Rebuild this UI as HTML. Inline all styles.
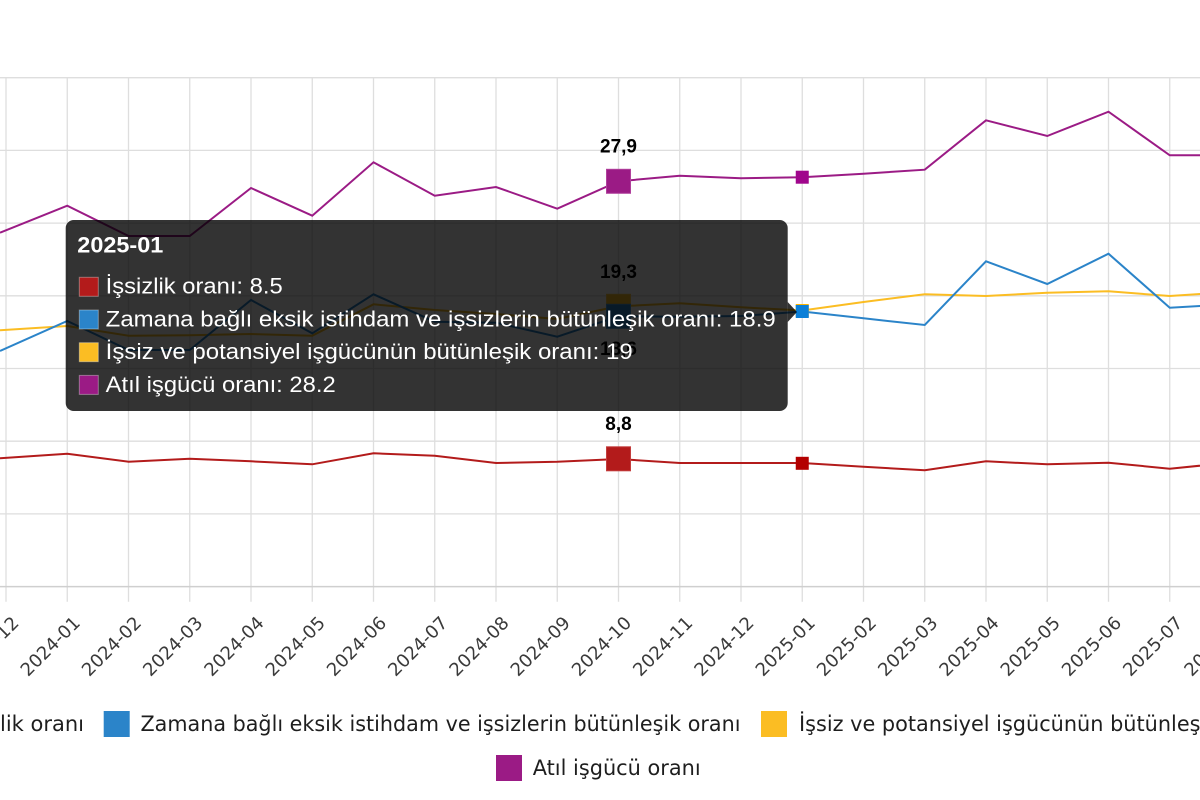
<!DOCTYPE html>
<html><head><meta charset="utf-8"><style>
html,body{margin:0;padding:0;background:#fff;width:1200px;height:800px;overflow:hidden}
svg{display:block}
</style></head><body>
<svg width="1200" height="800" viewBox="0 0 1200 800" xmlns="http://www.w3.org/2000/svg">
<rect width="1200" height="800" fill="#fff"/>
<!-- horizontal grid -->
<g stroke="#dedede" stroke-width="1.3">
<line x1="0" y1="77.7" x2="1200" y2="77.7"/>
<line x1="0" y1="150.4" x2="1200" y2="150.4"/>
<line x1="0" y1="223.1" x2="1200" y2="223.1"/>
<line x1="0" y1="295.8" x2="1200" y2="295.8"/>
<line x1="0" y1="368.5" x2="1200" y2="368.5"/>
<line x1="0" y1="441.2" x2="1200" y2="441.2"/>
<line x1="0" y1="513.9" x2="1200" y2="513.9"/>
</g>
<!-- vertical grid -->
<g stroke="#dedede" stroke-width="1.3">
<line x1="6" y1="77.7" x2="6" y2="601.7"/>
<line x1="67.25" y1="77.7" x2="67.25" y2="601.7"/>
<line x1="128.5" y1="77.7" x2="128.5" y2="601.7"/>
<line x1="189.75" y1="77.7" x2="189.75" y2="601.7"/>
<line x1="251" y1="77.7" x2="251" y2="601.7"/>
<line x1="312.25" y1="77.7" x2="312.25" y2="601.7"/>
<line x1="373.5" y1="77.7" x2="373.5" y2="601.7"/>
<line x1="434.75" y1="77.7" x2="434.75" y2="601.7"/>
<line x1="496" y1="77.7" x2="496" y2="601.7"/>
<line x1="557.25" y1="77.7" x2="557.25" y2="601.7"/>
<line x1="618.5" y1="77.7" x2="618.5" y2="601.7"/>
<line x1="679.75" y1="77.7" x2="679.75" y2="601.7"/>
<line x1="741" y1="77.7" x2="741" y2="601.7"/>
<line x1="802.25" y1="77.7" x2="802.25" y2="601.7"/>
<line x1="863.5" y1="77.7" x2="863.5" y2="601.7"/>
<line x1="924.75" y1="77.7" x2="924.75" y2="601.7"/>
<line x1="986" y1="77.7" x2="986" y2="601.7"/>
<line x1="1047.25" y1="77.7" x2="1047.25" y2="601.7"/>
<line x1="1108.5" y1="77.7" x2="1108.5" y2="601.7"/>
<line x1="1169.75" y1="77.7" x2="1169.75" y2="601.7"/>
</g>
<line x1="0" y1="586.6" x2="1200" y2="586.6" stroke="#cfcfcf" stroke-width="1.5"/>

<!-- series lines -->
<g fill="none" stroke-width="2" stroke-linejoin="miter">
<polyline stroke="#9b1b85" points="0,232.7 67.25,205.7 128.5,236 189.75,236 251,188 312.25,215.7 373.5,162.3 434.75,195.7 496,187 557.25,208.7 618.5,181.3 679.75,175.7 741,178.3 802.25,177.2 863.5,173.7 924.75,169.7 986,120.3 1047.25,136 1108.5,111.7 1169.75,155.3 1231,155.3"/>
<polyline stroke="#fbbd23" points="0,330.3 67.25,326 128.5,335.7 189.75,335.3 251,334 312.25,335.7 373.5,304.3 434.75,310 496,314 557.25,319 618.5,306.3 679.75,303.3 741,307.3 802.25,310.5 863.5,302 924.75,294.3 986,296 1047.25,292.7 1108.5,291.3 1169.75,296 1231,292"/>
<polyline stroke="#2b84c9" points="0,351 67.25,321 128.5,350 189.75,350 251,300 312.25,333.3 373.5,294.3 434.75,321.7 496,322.7 557.25,336.7 618.5,316.3 679.75,316.7 741,316 802.25,311.5 863.5,318.3 924.75,325 986,261.3 1047.25,284 1108.5,253.7 1169.75,307.7 1231,304.3"/>
<polyline stroke="#b31b1b" points="0,458.3 67.25,453.7 128.5,461.7 189.75,458.7 251,461.3 312.25,464.3 373.5,453.3 434.75,455.7 496,463 557.25,461.7 618.5,459 679.75,463 741,463 802.25,463 863.5,466.7 924.75,470.3 986,461.3 1047.25,464.3 1108.5,462.7 1169.75,468.7 1231,462.6"/>
</g>

<!-- big markers at 2024-10 -->
<rect x="606.5" y="169.3" width="24" height="24" fill="#9b1b85" stroke="#b0409c" stroke-width="1"/>
<rect x="606.5" y="294.3" width="24" height="24" fill="#fbbd23" stroke="#fbc84a" stroke-width="1"/>
<rect x="606.5" y="304.3" width="24" height="24" fill="#2b84c9" stroke="#4b9ad4" stroke-width="1"/>
<rect x="606.5" y="446.8" width="24" height="24" fill="#b31b1b" stroke="#c33d3d" stroke-width="1"/>
<!-- hover markers at 2025-01 -->
<rect x="795.75" y="170.7" width="13" height="13" fill="#a0068c"/>
<rect x="795.75" y="304" width="13" height="13" fill="#fbb300"/>
<rect x="795.75" y="305" width="13" height="13" fill="#0b7fd8"/>
<rect x="795.75" y="456.8" width="13" height="13" fill="#b30000"/>

<!-- data labels -->
<g font-family="Liberation Sans, Arial, sans-serif" font-weight="bold" font-size="19" fill="#000" text-anchor="middle">
<text x="618.5" y="152.5">27,9</text>
<text x="618.5" y="277.8">19,3</text>
<text x="618.5" y="355">18,6</text>
<text x="618.5" y="430">8,8</text>
</g>

<!-- x tick labels -->
<g font-family="DejaVu Sans, sans-serif" font-size="18" fill="#3a3a3a" text-anchor="end">
<text x="20" y="624" transform="rotate(-45 20 624)">2023-12</text>
<text x="81.25" y="624" transform="rotate(-45 81.25 624)">2024-01</text>
<text x="142.5" y="624" transform="rotate(-45 142.5 624)">2024-02</text>
<text x="203.75" y="624" transform="rotate(-45 203.75 624)">2024-03</text>
<text x="265" y="624" transform="rotate(-45 265 624)">2024-04</text>
<text x="326.25" y="624" transform="rotate(-45 326.25 624)">2024-05</text>
<text x="387.5" y="624" transform="rotate(-45 387.5 624)">2024-06</text>
<text x="448.75" y="624" transform="rotate(-45 448.75 624)">2024-07</text>
<text x="510" y="624" transform="rotate(-45 510 624)">2024-08</text>
<text x="571.25" y="624" transform="rotate(-45 571.25 624)">2024-09</text>
<text x="632.5" y="624" transform="rotate(-45 632.5 624)">2024-10</text>
<text x="693.75" y="624" transform="rotate(-45 693.75 624)">2024-11</text>
<text x="755" y="624" transform="rotate(-45 755 624)">2024-12</text>
<text x="816.25" y="624" transform="rotate(-45 816.25 624)">2025-01</text>
<text x="877.5" y="624" transform="rotate(-45 877.5 624)">2025-02</text>
<text x="938.75" y="624" transform="rotate(-45 938.75 624)">2025-03</text>
<text x="1000" y="624" transform="rotate(-45 1000 624)">2025-04</text>
<text x="1061.25" y="624" transform="rotate(-45 1061.25 624)">2025-05</text>
<text x="1122.5" y="624" transform="rotate(-45 1122.5 624)">2025-06</text>
<text x="1183.75" y="624" transform="rotate(-45 1183.75 624)">2025-07</text>
<text x="1245" y="624" transform="rotate(-45 1245 624)">2025-08</text>
</g>

<!-- legend -->
<g font-family="DejaVu Sans, sans-serif" font-size="21" fill="#1e1e1e">
<rect x="-77" y="711" width="26" height="26" fill="#b31b1b"/>
<text x="84" y="731" text-anchor="end">İşsizlik oranı</text>
<rect x="103.7" y="711" width="26" height="26" fill="#2b84c9"/>
<text x="140.5" y="731" textLength="600" lengthAdjust="spacingAndGlyphs">Zamana bağlı eksik istihdam ve işsizlerin bütünleşik oranı</text>
<rect x="761" y="711" width="26" height="26" fill="#fbbd23"/>
<text x="799" y="731" textLength="479" lengthAdjust="spacingAndGlyphs">İşsiz ve potansiyel işgücünün bütünleşik oranı</text>
<rect x="496" y="755" width="26" height="26" fill="#9b1b85"/>
<text x="532.7" y="775" textLength="168" lengthAdjust="spacingAndGlyphs">Atıl işgücü oranı</text>
</g>

<!-- tooltip -->
<rect x="65.7" y="220" width="722" height="191" rx="8" ry="8" fill="rgba(0,0,0,0.8)"/>
<polygon points="787.7,302 797,312 787.7,322" fill="rgba(0,0,0,0.8)"/>
<g font-family="Liberation Sans, Arial, sans-serif" fill="#fff">
<text x="77.3" y="252.7" font-size="22" font-weight="bold" textLength="86" lengthAdjust="spacingAndGlyphs">2025-01</text>
<g stroke="rgba(255,255,255,0.35)" stroke-width="1">
<rect x="79.3" y="277.3" width="19" height="19" fill="#b31b1b"/>
<rect x="79.3" y="310" width="19" height="19" fill="#2b84c9"/>
<rect x="79.3" y="342.7" width="19" height="19" fill="#fbbd23"/>
<rect x="79.3" y="375.4" width="19" height="19" fill="#9b1b85"/>
</g>
<g font-size="22.5">
<text x="105.7" y="293.7" textLength="177" lengthAdjust="spacingAndGlyphs">İşsizlik oranı: 8.5</text>
<text x="105.7" y="326.4" textLength="670" lengthAdjust="spacingAndGlyphs">Zamana bağlı eksik istihdam ve işsizlerin bütünleşik oranı: 18.9</text>
<text x="105.7" y="359.1" textLength="527" lengthAdjust="spacingAndGlyphs">İşsiz ve potansiyel işgücünün bütünleşik oranı: 19</text>
<text x="105.7" y="391.8" textLength="230" lengthAdjust="spacingAndGlyphs">Atıl işgücü oranı: 28.2</text>
</g>
</g>
</svg>
</body></html>
